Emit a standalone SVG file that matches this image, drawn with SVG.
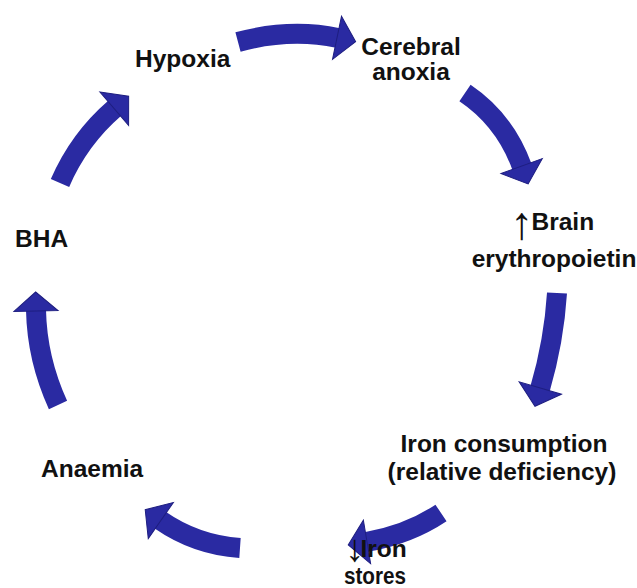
<svg xmlns="http://www.w3.org/2000/svg" width="637" height="588" viewBox="0 0 637 588">
<style>
.lbl{font-family:"Liberation Sans",Arial,sans-serif;font-weight:bold;font-size:24.5px;fill:#111}
.sym{font-weight:normal}
.arr{fill:none;stroke:#2a2aa2;stroke-width:20;stroke-linecap:butt;marker-end:url(#head)}
</style>
<defs>
<marker id="head" markerUnits="userSpaceOnUse" viewBox="-2 -24 22 48" refX="0" refY="0" markerWidth="22" markerHeight="48" orient="auto" overflow="visible">
<path d="M-1,-22 L18,0 L-1,22 Z" fill="#2a2aa2" stroke="#1e1e80" stroke-width="1"/>
</marker>
</defs>
<rect width="637" height="588" fill="#ffffff"/>
<g id="connectors">
<path class="arr" d="M238,42 Q290,28 338,38"/>
<path class="arr" d="M465,93 Q505,120 522,167"/>
<path class="arr" d="M557,293 Q554,341 540,389"/>
<path class="arr" d="M441,513 Q408,535 366,542"/>
<path class="arr" d="M240,548 Q196,545 160,520"/>
<path class="arr" d="M58,405 Q37,359 36,310"/>
<path class="arr" d="M60,183 Q79,139 115,108"/>
</g>
<g id="hypoxia"><text class="lbl" x="135" y="67">Hypoxia</text></g>
<g id="cerebral-anoxia"><text class="lbl" x="411" y="55" text-anchor="middle">Cerebral</text><text class="lbl" x="411" y="80" text-anchor="middle">anoxia</text></g>
<g id="brain-epo"><text class="lbl" x="510" y="230"><tspan class="sym" font-size="46" dy="9">↑</tspan><tspan dx="-1.5" dy="-9">Brain</tspan></text><text class="lbl" x="554" y="267" text-anchor="middle">erythropoietin</text></g>
<g id="iron-consumption"><text class="lbl" x="504" y="452" text-anchor="middle">Iron consumption</text><text class="lbl" x="502" y="480" text-anchor="middle">(relative deficiency)</text></g>
<g id="iron-stores"><text class="lbl" x="345" y="557"><tspan class="sym" font-size="38" dy="4">↓</tspan><tspan dx="-3.5" dy="-4">Iron</tspan></text><text class="lbl" x="344" y="584" textLength="62" lengthAdjust="spacingAndGlyphs">stores</text></g>
<g id="anaemia"><text class="lbl" x="41" y="477">Anaemia</text></g>
<g id="bha"><text class="lbl" x="15" y="247">BHA</text></g>
</svg>
